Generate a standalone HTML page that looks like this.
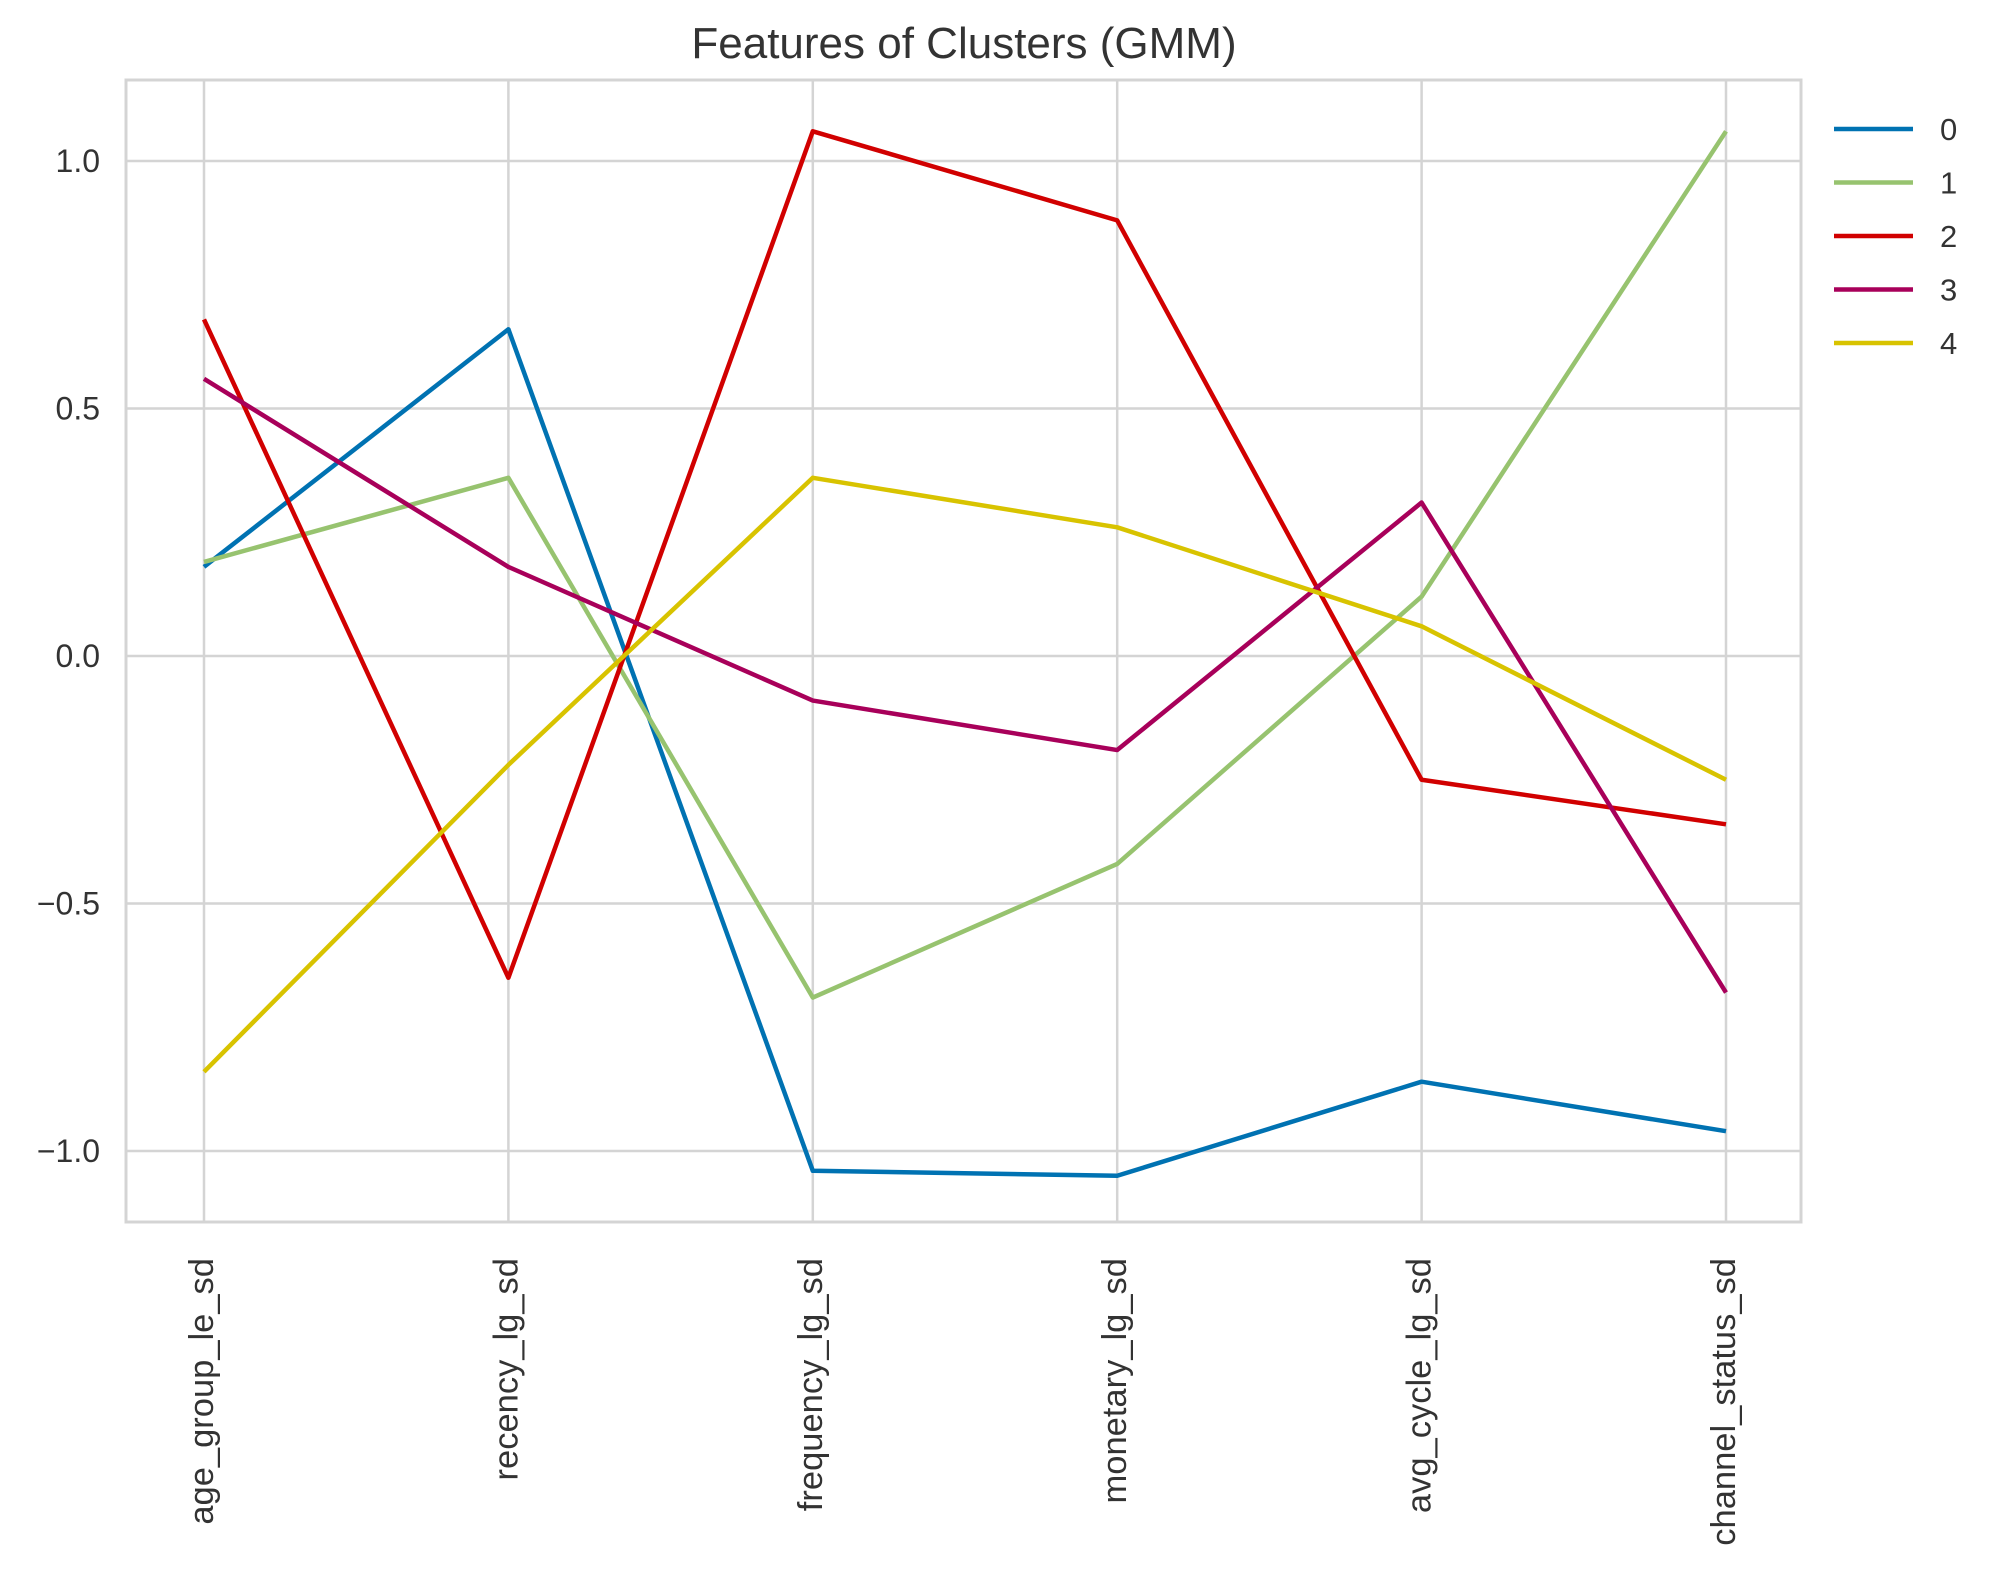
<!DOCTYPE html>
<html><head><meta charset="utf-8"><style>body{margin:0;background:#fff}svg{display:block}</style></head>
<body>
<svg id="chart" width="2000" height="1590" xmlns="http://www.w3.org/2000/svg" font-family="Liberation Sans, sans-serif">
<rect width="2000" height="1590" fill="#fff"/>
<text x="964" y="58" font-size="44" text-anchor="middle" fill="#333">Features of Clusters (GMM)</text>
<g id="grid"></g><g id="series"></g><g id="axes"></g><g id="legend"></g>
</svg>
<script>
const categories = ["age_group_le_sd","recency_lg_sd","frequency_lg_sd","monetary_lg_sd","avg_cycle_lg_sd","channel_status_sd"];
const seriesNames = ["0","1","2","3","4"];
const s0 = [0.18, 0.66, -1.04, -1.05, -0.86, -0.96];
const s1 = [0.19, 0.36, -0.69, -0.42, 0.12, 1.06];
const s2 = [0.68, -0.65, 1.06, 0.88, -0.25, -0.34];
const s3 = [0.56, 0.18, -0.09, -0.19, 0.31, -0.68];
const s4 = [-0.84, -0.22, 0.36, 0.26, 0.06, -0.25];
const yTicks = [1.0, 0.5, 0.0, -0.5, -1.0];
const yTickLabels = ["1.0","0.5","0.0","\u22120.5","\u22121.0"];
const colors = ["#0072b2","#97c36f","#d10000","#a8005a","#d8c300"];
const allSeries = [s0,s1,s2,s3,s4];
const L=126,R=1801,T=80,B=1222;
const x0=204,x1=1726;
const xs = i => x0 + i*(x1-x0)/(categories.length-1);
const ys = v => 656 - v*495;
const NS="http://www.w3.org/2000/svg";
function mk(tag, attrs, parent){const e=document.createElementNS(NS,tag);for(const k in attrs)e.setAttribute(k,attrs[k]);parent.appendChild(e);return e;}
const grid=document.getElementById('grid'),ser=document.getElementById('series'),ax=document.getElementById('axes'),lg=document.getElementById('legend');
yTicks.forEach((v,i)=>{
 const l=mk('line',{x1:L,x2:R,y1:ys(v),y2:ys(v),stroke:'#d4d4d4','stroke-width':2.5},grid);
 
 
 const t=mk('text',{x:L-26,y:ys(v)+11,'font-size':32,'text-anchor':'end',fill:'#333'},ax);
 t.textContent=yTickLabels[i];
 
 
});
categories.forEach((c,i)=>{
 const l=mk('line',{x1:xs(i),x2:xs(i),y1:T,y2:B,stroke:'#d4d4d4','stroke-width':2.5},grid);
 
 
 const t=mk('text',{transform:`translate(${xs(i)+9},1258) rotate(-90)`,'font-size':34.5,'text-anchor':'end',fill:'#333'},ax);
 t.textContent=c;
 
 
});
const frame=mk('rect',{x:L,y:T,width:R-L,height:B-T,fill:'none',stroke:'#d4d4d4','stroke-width':3},ax);


allSeries.forEach((s,k)=>{
 const p=mk('polyline',{points:s.map((v,i)=>xs(i)+','+ys(v)).join(' '),fill:'none',stroke:colors[k],'stroke-width':4.5,'stroke-linejoin':'round'},ser);
 
 
 const y=129+k*53.5;
 const ll=mk('line',{x1:1834,x2:1913,y1:y,y2:y,stroke:colors[k],'stroke-width':4.5},lg);
 
 
 const lt=mk('text',{x:1940,y:y+11,'font-size':31,fill:'#333'},lg);
 lt.textContent=seriesNames[k];
 
 
});
</script>
</body></html>
